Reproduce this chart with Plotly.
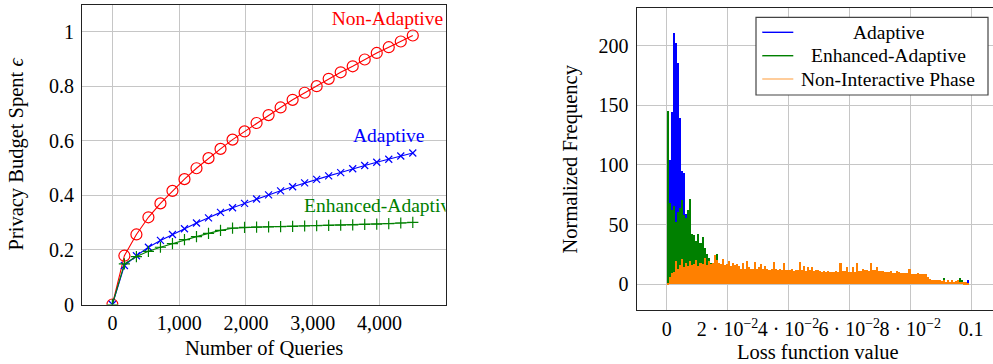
import plotly.graph_objects as go

# ---------------- data: left panel ----------------
queries = [0, 180, 360, 540, 720, 900, 1080, 1260, 1440, 1620, 1800, 1980, 2160,
           2340, 2520, 2700, 2880, 3060, 3240, 3420, 3600, 3780, 3960, 4140, 4320, 4500]
non_adaptive = [0, 0.179, 0.257, 0.320, 0.371, 0.417, 0.460, 0.500, 0.537, 0.571, 0.605,
                0.635, 0.666, 0.695, 0.723, 0.751, 0.777, 0.801, 0.828, 0.852, 0.874,
                0.899, 0.923, 0.944, 0.965, 0.987]
adaptive = [0, 0.143, 0.179, 0.210, 0.235, 0.257, 0.278, 0.299, 0.318, 0.338, 0.355,
            0.371, 0.387, 0.402, 0.417, 0.432, 0.446, 0.459, 0.472, 0.484, 0.498,
            0.510, 0.522, 0.533, 0.545, 0.556]
enhanced = [0, 0.149, 0.176, 0.195, 0.210, 0.223, 0.238, 0.249, 0.261, 0.272, 0.280,
            0.283, 0.284, 0.285, 0.286, 0.287, 0.288, 0.289, 0.290, 0.291, 0.292,
            0.294, 0.295, 0.297, 0.299, 0.301]
left_x_ticks = [0, 1000, 2000, 3000, 4000]
left_y_ticks = [0, 0.2, 0.4, 0.6, 0.8, 1.0]

# ---------------- data: right panel (histogram, bin width 0.1/150) ----------------
bin_width = 0.1 / 150
hist_adaptive = [70, 104, 144, 210, 202, 185, 139, 95, 93, 59, 48, 40, 35, 28, 22, 18, 15, 12, 10, 8, 6,
                 5, 5, 4, 4, 4, 3, 4, 3, 3, 2,
                 0, 0, 0, 0, 0, 0, 0, 0, 0, 0, 0, 0, 0, 0, 0, 0, 0, 0, 0, 0,
                 0, 0, 0, 0, 0, 0, 0, 0, 0, 0, 0, 0, 0, 0, 0, 0, 0, 0, 0, 0,
                 0, 0, 0, 0, 0, 0, 0, 0, 0, 0, 0, 0, 0, 0, 0, 0, 0, 0, 0, 0,
                 0, 0, 0, 0, 0, 0, 0, 0, 0, 0, 0, 0, 0, 0, 0, 0, 0, 0, 0, 0,
                 0, 0, 0, 0, 0, 0, 0, 0, 0, 0, 0, 0, 0, 0, 0, 0, 0, 0, 0, 0,
                 0, 0, 0, 0, 0, 0, 0, 0, 0, 0, 0, 0, 0, 0, 0, 0,
                 1.5, 3]
hist_enhanced = [145, 68, 62, 65, 52, 60, 64, 70, 58, 55, 62, 71, 42, 41, 36, 42, 34, 39, 30, 25, 22, 18, 16, 15, 25, 12,
                 8, 9, 7, 8, 9, 7, 8, 6, 9, 7, 8, 7, 9, 6, 8, 7, 8, 9, 7, 8,
                 7, 8, 6, 7, 8, 7, 6, 8, 7, 7, 6, 8, 7, 6, 7, 8, 6, 7, 7, 6,
                 7, 6, 8, 7, 6, 7, 6, 7, 8, 6, 7, 6, 7, 6, 7, 6, 7, 8, 6, 7,
                 6, 7, 6, 7, 6, 5, 7, 6, 7, 6, 5, 6, 7, 6, 5, 6, 7, 6, 5, 6,
                 5, 6, 5, 6, 5, 6, 5, 5, 6, 5, 6, 5, 5, 6, 5, 6, 5, 5, 6, 5,
                 5, 4, 4, 2, 2, 2.5, 2, 2.5, 2, 2, 4.7, 2, 2.5, 2, 2.5, 2, 2, 2.5, 4.7, 3.5, 1.5, 1, 0.5]
hist_noninteractive = [1, 6, 9, 10, 19, 13, 16, 21, 14, 18, 15, 19, 16, 17, 20, 15, 18, 17, 22, 16,
                       19, 17, 18, 24, 20, 18, 17, 21, 16, 17, 19, 15, 18, 16, 17, 15,
                       12.5, 17.5, 13, 19.5, 14, 13, 13, 18.7, 13, 14,
                       16.7, 13, 15, 12.5, 12, 12.5, 18.7, 13, 12, 12.5,
                       12, 17.5, 12, 11.5, 12, 12.5, 11, 11.5, 12, 18.7,
                       12, 14.8, 11, 14, 11.5, 14, 11, 12, 12, 11,
                       10.5, 11, 10, 11, 10.5, 10, 10.3, 11, 10.5, 17.5,
                       11, 11, 14, 10.5, 10, 14, 10.5, 17.5, 11, 11,
                       12.5, 12,
                       12, 11, 17.5, 12, 12, 14, 11, 11, 11, 10,
                       10, 10, 11, 9, 9, 11, 10, 9, 9, 9,
                       9, 13, 8, 8, 8, 9, 8, 8, 8, 8, 6,
                       4, 3, 3, 3, 3, 3,
                       2.5, 3, 2, 3, 2, 3, 2, 2.5, 3, 2, 2, 1.5, 1.5, 1]
right_x_ticks = [0, 0.02, 0.04, 0.06, 0.08, 0.1]
right_x_ticktext = ["0", "2 · 10<sup>−2</sup>", "4 · 10<sup>−2</sup>",
                    "6 · 10<sup>−2</sup>", "8 · 10<sup>−2</sup>", "0.1"]
right_y_ticks = [0, 50, 100, 150, 200]

W, H = 993, 364
FONT = "Liberation Serif, DejaVu Serif, serif"
RED, BLUE, GREEN, ORANGE = "#ff0000", "#0000ff", "#008000", "#ff8000"
GRID = "#c6c6c6"
FRAME = "#222222"

def px_x(p):
    return p / W

def px_y(p):
    return (H - p) / H

fig = go.Figure()

# ---- left panel lines (name, values, colour, symbol, size, label x-offset) ----
series = [
    ("Non-Adaptive", non_adaptive, RED, "circle-open", 11, -380),
    ("Adaptive", adaptive, BLUE, "x-thin-open", 7, -360),
    ("Enhanced-Adaptive", enhanced, GREEN, "cross-thin-open", 8, -470),
]
for name, ys, col, sym, size, _ in series:
    fig.add_trace(go.Scatter(
        x=queries, y=ys, mode="lines+markers", name=name,
        line=dict(color=col, width=1.1),
        marker=dict(symbol=sym, size=size, color=col, line=dict(color=col, width=1.2)),
        xaxis="x", yaxis="y", showlegend=False))
# end-of-line labels (clipped by the axis box)
for name, ys, col, sym, size, dx in series:
    fig.add_trace(go.Scatter(
        x=[queries[-1] + dx], y=[ys[-1] + 0.058], mode="text", text=[name],
        textposition="middle center", cliponaxis=True,
        textfont=dict(family=FONT, size=19.5, color=col),
        xaxis="x", yaxis="y", showlegend=False, hoverinfo="skip"))

# ---- right panel histograms ----
def centers(vals):
    return [(i + 0.5) * bin_width for i in range(len(vals))]

for name, vals, col in [("Adaptive", hist_adaptive, BLUE),
                        ("Enhanced-Adaptive", hist_enhanced, GREEN),
                        ("Non-Interactive Phase", hist_noninteractive, ORANGE)]:
    fig.add_trace(go.Bar(
        x=centers(vals), y=vals, width=bin_width, name=name,
        marker=dict(color=col, line=dict(width=0)),
        xaxis="x2", yaxis="y2", showlegend=False))

axis_common = dict(showgrid=True, gridcolor=GRID, gridwidth=1, zeroline=False,
                   showline=True, linecolor=FRAME, linewidth=1.2, ticks="",
                   automargin=False,
                   tickfont=dict(family=FONT, size=20, color="black"))

fig.update_layout(
    width=W, height=H, autosize=False, margin=dict(l=0, r=0, t=0, b=0, pad=0),
    paper_bgcolor="white", plot_bgcolor="white",
    barmode="overlay", bargap=0,
    font=dict(family=FONT, size=20, color="black"),
    xaxis=dict(domain=[px_x(82), px_x(445.5)], range=[-455, 4990], anchor="y",
               tickvals=left_x_ticks, tickformat=",", mirror=True,
               ticklabelstandoff=0, **axis_common),
    yaxis=dict(domain=[px_y(304.5), px_y(4.7)], range=[0, 1.1], anchor="x",
               tickvals=left_y_ticks, mirror=True, ticklabelstandoff=3, **axis_common),
    xaxis2=dict(domain=[px_x(636.7), 1.0], range=[-0.00986, 0.1072], anchor="y2",
                tickvals=right_x_ticks, ticktext=right_x_ticktext, tickangle=0,
                mirror=True, ticklabelstandoff=1, **axis_common),
    yaxis2=dict(domain=[px_y(310), px_y(8.3)], range=[-21.5, 231.2], anchor="x2",
                tickvals=right_y_ticks, mirror=False, ticklabelstandoff=3, **axis_common),
)

# axis titles
titles = [
    ("Number of Queries", 263.5, 348, 0),
    ("Privacy Budget Spent <i>ϵ</i>", 16, 154.5, -90),
    ("Loss function value", 817.5, 352, 0),
    ("Normalized Frequency", 570, 159.5, -90),
]
for txt, x, y, ang in titles:
    fig.add_annotation(text=txt, x=px_x(x), y=px_y(y), xref="paper", yref="paper",
                       xanchor="center", yanchor="middle", showarrow=False,
                       textangle=ang, font=dict(family=FONT, size=20.5, color="black"))

# legend (centered text like the original)
fig.add_shape(type="rect", xref="paper", yref="paper",
              x0=px_x(756), x1=px_x(988), y0=px_y(95), y1=px_y(17.3),
              line=dict(color="#444444", width=1.2), fillcolor="white", layer="above")
legend_rows = [("Adaptive", BLUE, 32.3), ("Enhanced-Adaptive", GREEN, 55.7),
               ("Non-Interactive Phase", "#ffb870", 79)]
for txt, col, y in legend_rows:
    fig.add_shape(type="line", xref="paper", yref="paper",
                  x0=px_x(762.3), x1=px_x(793.3), y0=px_y(y), y1=px_y(y),
                  line=dict(color=col, width=1.4), layer="above")
    fig.add_annotation(text=txt, x=px_x(888), y=px_y(y), xref="paper", yref="paper",
                       xanchor="center", yanchor="middle", showarrow=False,
                       font=dict(family=FONT, size=19.5, color="black"))

fig.write_html("out.html", config={"responsive": False})
